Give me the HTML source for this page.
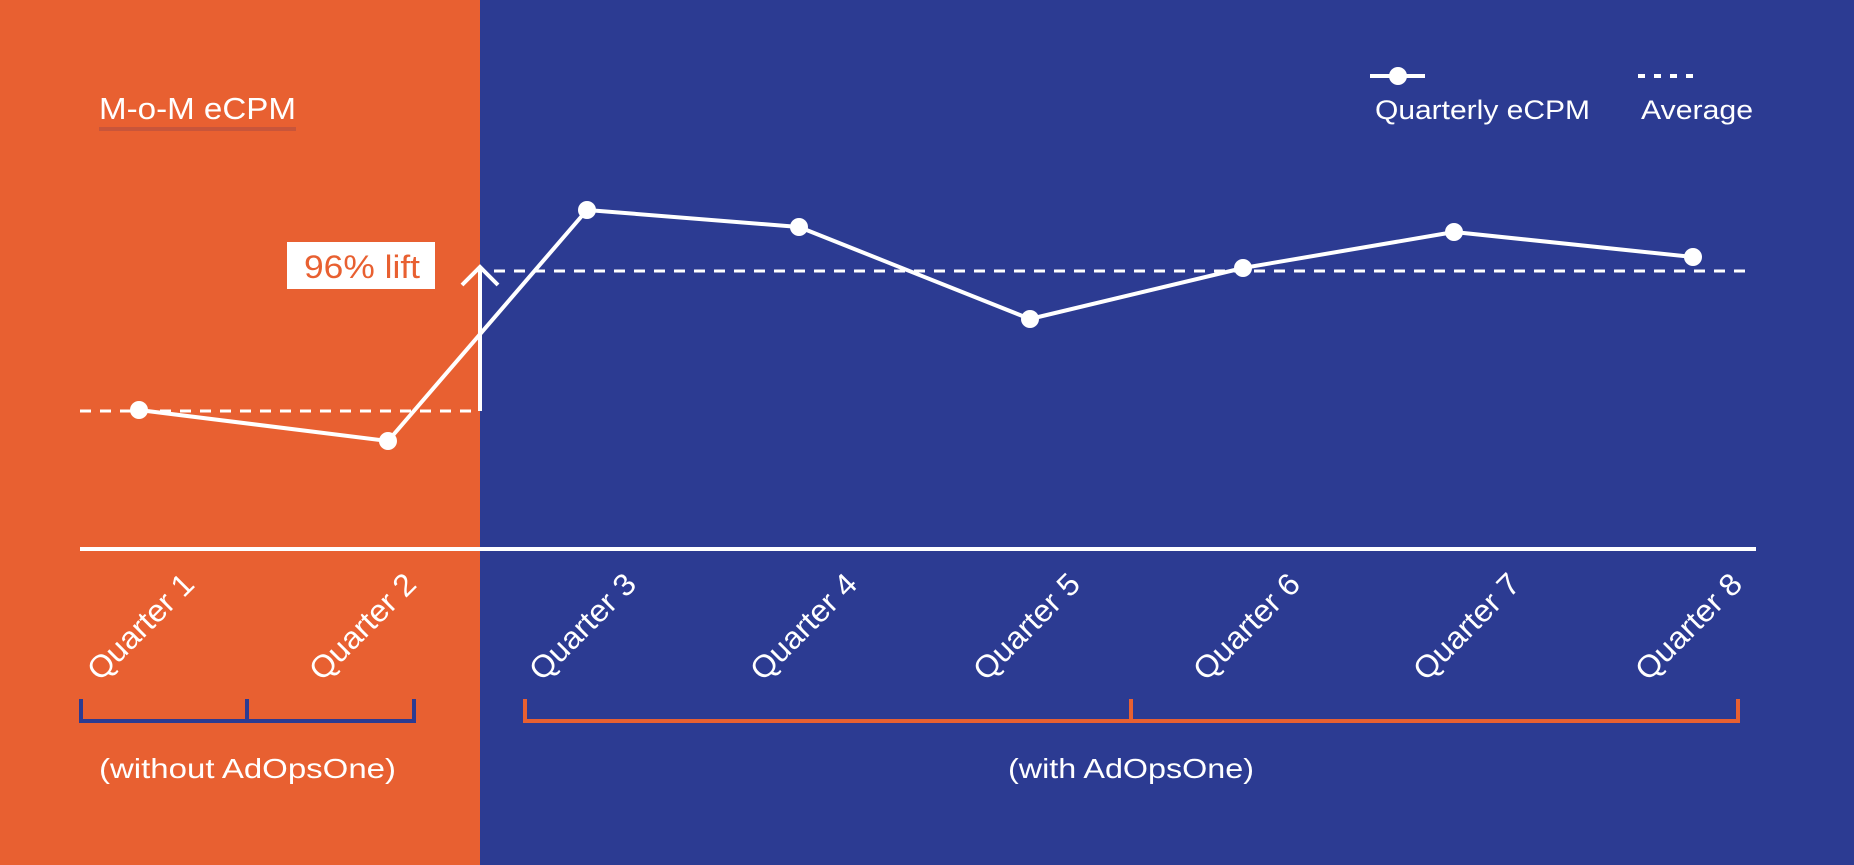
<!DOCTYPE html>
<html><head><meta charset="utf-8"><style>
html,body{margin:0;padding:0;width:1854px;height:865px;overflow:hidden;background:#2c3b92}
svg{display:block}
text{font-family:"Liberation Sans",sans-serif;fill:#fff}
</style></head><body>
<svg width="1854" height="865" viewBox="0 0 1854 865">
<rect x="0" y="0" width="1854" height="865" fill="#2c3b92"/>
<rect x="0" y="0" width="480" height="865" fill="#e86031"/>
<text x="99" y="119" font-size="31" textLength="197" lengthAdjust="spacingAndGlyphs">M-o-M eCPM</text>
<rect x="99" y="127" width="197" height="4" fill="#c8553a"/>
<!-- legend -->
<line x1="1370" y1="76" x2="1425" y2="76" stroke="#fff" stroke-width="4"/>
<circle cx="1398" cy="76" r="9" fill="#fff"/>
<line x1="1638" y1="76" x2="1696" y2="76" stroke="#fff" stroke-width="4" stroke-dasharray="7,9"/>
<text x="1375" y="119" font-size="27" textLength="215" lengthAdjust="spacingAndGlyphs">Quarterly eCPM</text>
<text x="1641" y="119" font-size="27" textLength="112" lengthAdjust="spacingAndGlyphs">Average</text>
<!-- averages -->
<line x1="80" y1="411" x2="480" y2="411" stroke="#fff" stroke-width="3" stroke-dasharray="11,9"/>
<line x1="494" y1="271" x2="1750" y2="271" stroke="#fff" stroke-width="3" stroke-dasharray="11,9"/>
<!-- arrow -->
<line x1="480" y1="411" x2="480" y2="268" stroke="#fff" stroke-width="4"/>
<polyline points="462,285 480,267 498,285" fill="none" stroke="#fff" stroke-width="4"/>
<rect x="287" y="242" width="148" height="47" fill="#fff"/>
<text x="304" y="278" font-size="32" style="fill:#e86031" textLength="116" lengthAdjust="spacingAndGlyphs">96% lift</text>
<!-- series -->
<polyline points="139,410 388,441 587,210 799,227 1030,319 1243,268 1454,232 1693,257" fill="none" stroke="#fff" stroke-width="4" stroke-linejoin="round"/>
<g fill="#fff">
<circle cx="139" cy="410" r="9"/><circle cx="388" cy="441" r="9"/><circle cx="587" cy="210" r="9"/><circle cx="799" cy="227" r="9"/>
<circle cx="1030" cy="319" r="9"/><circle cx="1243" cy="268" r="9"/><circle cx="1454" cy="232" r="9"/><circle cx="1693" cy="257" r="9"/>
</g>
<!-- axis -->
<line x1="80" y1="549" x2="1756" y2="549" stroke="#fff" stroke-width="4"/>
<g font-size="31" text-anchor="end">
<text transform="translate(196,586) rotate(-45)" textLength="136" lengthAdjust="spacingAndGlyphs">Quarter 1</text>
<text transform="translate(418,586) rotate(-45)" textLength="136" lengthAdjust="spacingAndGlyphs">Quarter 2</text>
<text transform="translate(638,586) rotate(-45)" textLength="136" lengthAdjust="spacingAndGlyphs">Quarter 3</text>
<text transform="translate(859,586) rotate(-45)" textLength="136" lengthAdjust="spacingAndGlyphs">Quarter 4</text>
<text transform="translate(1082,586) rotate(-45)" textLength="136" lengthAdjust="spacingAndGlyphs">Quarter 5</text>
<text transform="translate(1302,586) rotate(-45)" textLength="136" lengthAdjust="spacingAndGlyphs">Quarter 6</text>
<text transform="translate(1522,586) rotate(-45)" textLength="136" lengthAdjust="spacingAndGlyphs">Quarter 7</text>
<text transform="translate(1744,586) rotate(-45)" textLength="136" lengthAdjust="spacingAndGlyphs">Quarter 8</text>
</g>
<!-- brackets -->
<polyline points="81,699 81,721 414,721 414,699" fill="none" stroke="#2c3b92" stroke-width="4"/>
<line x1="247" y1="699" x2="247" y2="721" stroke="#2c3b92" stroke-width="4"/>
<polyline points="525,699 525,721 1738,721 1738,699" fill="none" stroke="#e86031" stroke-width="4"/>
<line x1="1131" y1="699" x2="1131" y2="721" stroke="#e86031" stroke-width="4"/>
<text x="99" y="778" font-size="28" textLength="297" lengthAdjust="spacingAndGlyphs">(without AdOpsOne)</text>
<text x="1008" y="778" font-size="28" textLength="246" lengthAdjust="spacingAndGlyphs">(with AdOpsOne)</text>
</svg>
</body></html>
